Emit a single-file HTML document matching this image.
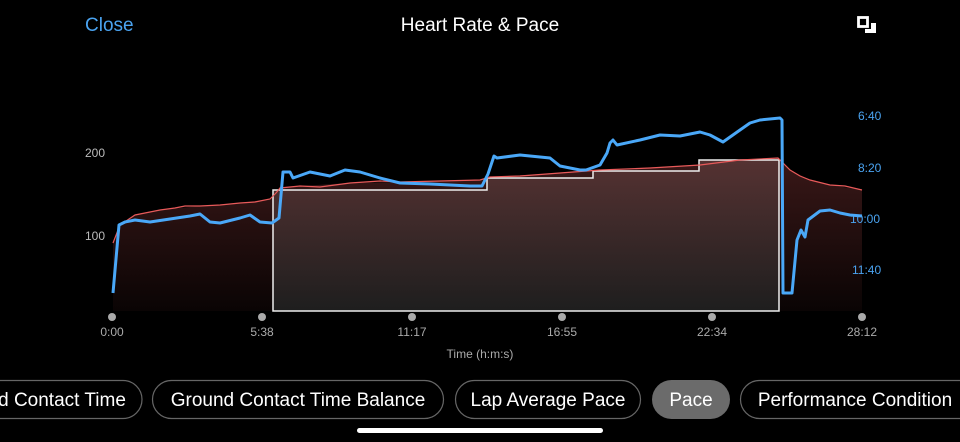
<!DOCTYPE html>
<html><head><meta charset="utf-8"><style>
html,body{margin:0;padding:0;background:#000;width:960px;height:442px;overflow:hidden;font-family:"Liberation Sans",sans-serif}
</style></head><body>
<svg width="960" height="442" viewBox="0 0 960 442" xmlns="http://www.w3.org/2000/svg" font-family="Liberation Sans, sans-serif">
<defs>
<linearGradient id="hr" x1="0" y1="0" x2="0" y2="1">
<stop offset="0" stop-color="#3a1818"/><stop offset="1" stop-color="#0a0404"/></linearGradient>
<linearGradient id="lap" x1="0" y1="0" x2="0" y2="1">
<stop offset="0" stop-color="#553232"/><stop offset="1" stop-color="#1e1e1e"/></linearGradient>
</defs>
<rect width="960" height="442" fill="#000"/>
<text x="85" y="31" fill="#4aa3f0" font-size="19">Close</text>
<text x="480" y="31" fill="#fff" font-size="19" text-anchor="middle">Heart Rate &amp; Pace</text>
<rect x="858.5" y="17.5" width="9" height="9" fill="none" stroke="#fff" stroke-width="2.8"/>
<path d="M871 23 H876 V33 H865 V29 H871 Z" fill="#fff"/>

<text x="85" y="157" fill="#bbb" font-size="12">200</text>
<text x="85" y="240" fill="#bbb" font-size="12">100</text>

<path d="M113,243 L120,225 L135,215 L160,210 L200,206 L240,203 L270,199 L276,193 L280,188 L300,186 L350,183 L400,182 L480,180 L490,177 L560,173 L600,170 L700,165 L740,160 L778,158 L790,170 L810,180 L830,185 L862,190 L862,311 L113,311 Z" fill="url(#hr)"/>
<path d="M273,311 V190 H487 V178 H593 V171 H699 V160 H779 V311 Z" fill="url(#lap)" stroke="#eee" stroke-width="1.5"/>
<path d="M113,243 L120,225 L135,215 L160,210 L175,208 L185,206 L200,206 L220,205 L240,203 L255,202 L270,199 L276,193 L280,188 L300,186 L320,187 L350,183 L380,181 L400,182 L440,181 L480,180 L490,177 L520,176 L560,173 L600,170 L650,168 L700,165 L740,160 L778,158 L790,170 L800,176 L810,180 L830,185 L845,186 L862,190" fill="none" stroke="#e85a5a" stroke-width="1.2"/>
<g fill="#4aa3f0" font-size="12"><text x="858" y="120">6:40</text><text x="858" y="172">8:20</text><text x="850" y="223">10:00</text><text x="852" y="274">11:40</text></g>
<path d="M113,293 L119,225 L125,222 L135,220 L150,222 L170,219 L190,216 L200,214 L210,222 L220,223 L240,218 L250,215 L260,222 L272,223 L279,218 L283,172 L290,172 L293,178 L310,172 L330,176 L345,170 L360,172 L380,178 L400,183 L430,184 L470,186 L482,186 L488,174 L494,156 L497,158 L520,155 L550,158 L560,166 L580,170 L586,170 L600,165 L607,153 L610,143 L613,140 L617,145 L640,140 L660,135 L680,136 L700,132 L710,135 L723,142 L740,130 L750,123 L760,120 L780,118 L782,120 L783,293 L792,293 L797,240 L801,230 L805,237 L808,220 L820,211 L830,210 L840,213 L850,215 L862,216" fill="none" stroke="#4aa8f8" stroke-width="3" stroke-linejoin="round"/>

<g fill="#aaa"><circle cx="112" cy="317" r="4"/><circle cx="262" cy="317" r="4"/><circle cx="412" cy="317" r="4"/><circle cx="562" cy="317" r="4"/><circle cx="712" cy="317" r="4"/><circle cx="862" cy="317" r="4"/></g>
<g fill="#aaa" font-size="12" text-anchor="middle"><text x="112" y="336">0:00</text><text x="262" y="336">5:38</text><text x="412" y="336">11:17</text><text x="562" y="336">16:55</text><text x="712" y="336">22:34</text><text x="862" y="336">28:12</text></g>
<text x="480" y="358" fill="#aaa" font-size="12" text-anchor="middle">Time (h:m:s)</text>

<g fill="none" stroke="#666" stroke-width="1.2">
<rect x="-60" y="380.5" width="202" height="38" rx="19"/>
<rect x="152.5" y="380.5" width="291" height="38" rx="19"/>
<rect x="455.5" y="380.5" width="185" height="38" rx="19"/>
<rect x="740.5" y="380.5" width="260" height="38" rx="19"/>
</g>
<rect x="652" y="380" width="78" height="39" rx="19.5" fill="#6b6b6b"/>
<g fill="#fff" font-size="19" text-anchor="middle">
<text x="62" y="406">d Contact Time</text>
<text x="298" y="406">Ground Contact Time Balance</text>
<text x="548" y="406">Lap Average Pace</text>
<text x="691" y="406">Pace</text>
<text x="855" y="406">Performance Condition</text>
</g>
<rect x="357" y="428" width="246" height="5" rx="2.5" fill="#fff"/>
</svg>
</body></html>
